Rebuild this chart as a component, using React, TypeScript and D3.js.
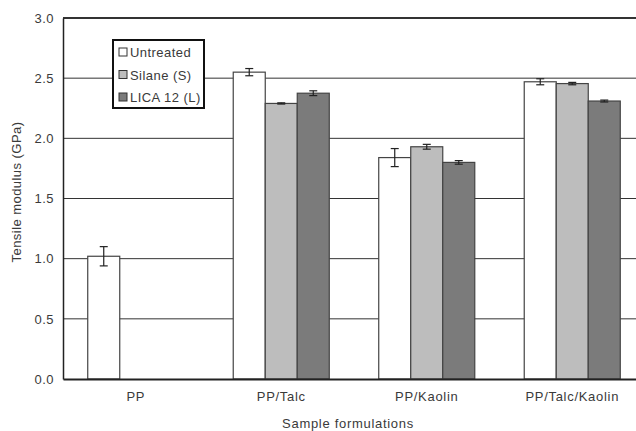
import { useEffect, useRef } from 'react'
import * as d3 from 'd3'

const formulations = ['PP', 'PP/Talc', 'PP/Kaolin', 'PP/Talc/Kaolin']
const treatments = ['Untreated', 'Silane (S)', 'LICA 12 (L)']
const treatmentColors = ['#ffffff', '#bdbdbd', '#7b7b7b']
// null = no bar for that treatment
const untreated = [1.02, 2.55, 1.84, 2.47]
const silane = [null, 2.29, 1.93, 2.455]
const lica = [null, 2.375, 1.8, 2.31]
const untreatedErr = [0.08, 0.03, 0.075, 0.025]
const silaneErr = [0, 0.005, 0.02, 0.01]
const licaErr = [0, 0.02, 0.015, 0.008]
const yTicks = [0, 0.5, 1, 1.5, 2, 2.5, 3]

const width = 636
const height = 431

const App = () => {
  const svgRef = useRef<SVGSVGElement | null>(null)

  useEffect(() => {
    const margin = { left: 63, right: -9, top: 18, bottom: 52 }
    const font = 'Liberation Sans, Arial, sans-serif'
    const textColor = '#3a3a3a'
    const fontSize = '13px'
    const spacing = '0.45px'

    const series = [untreated, silane, lica]
    const errs = [untreatedErr, silaneErr, licaErr]

    const x0 = d3
      .scaleBand()
      .domain(formulations)
      .range([margin.left, width - margin.right])
      .paddingInner(0.34)
      .paddingOuter(0.17)
    const x1 = d3
      .scaleBand()
      .domain(treatments)
      .range([0, x0.bandwidth()])
    const y = d3
      .scaleLinear()
      .domain([0, 3])
      .range([height - margin.bottom, margin.top])

    const svg = d3.select(svgRef.current)
    svg.selectAll('*').remove()

    // grid lines
    svg
      .append('g')
      .selectAll('line')
      .data(yTicks.slice(1))
      .join('line')
      .attr('x1', margin.left)
      .attr('x2', width)
      .attr('y1', (d) => y(d))
      .attr('y2', (d) => y(d))
      .attr('stroke', '#333')
      .attr('stroke-width', (d) => (d === 3 ? 2 : 1))

    // bars
    const rows = formulations.flatMap((f, i) =>
      treatments.map((t, j) => ({
        f,
        t,
        j,
        v: series[j][i],
        e: errs[j][i],
      }))
    ).filter((d) => d.v !== null) as { f: string; t: string; j: number; v: number; e: number }[]

    svg
      .append('g')
      .selectAll('rect')
      .data(rows)
      .join('rect')
      .attr('x', (d) => (x0(d.f) as number) + (x1(d.t) as number))
      .attr('width', x1.bandwidth())
      .attr('y', (d) => y(d.v))
      .attr('height', (d) => y(0) - y(d.v))
      .attr('fill', (d) => treatmentColors[d.j])
      .attr('stroke', '#444')
      .attr('stroke-width', 1.2)

    // error bars
    const eb = svg.append('g').attr('stroke', '#222').attr('stroke-width', 1.2)
    rows.forEach((d) => {
      const cx = (x0(d.f) as number) + (x1(d.t) as number) + x1.bandwidth() / 2
      const lo = y(d.v - d.e)
      const hi = y(d.v + d.e)
      eb.append('line').attr('x1', cx).attr('x2', cx).attr('y1', lo).attr('y2', hi)
      eb.append('line').attr('x1', cx - 4).attr('x2', cx + 4).attr('y1', lo).attr('y2', lo)
      eb.append('line').attr('x1', cx - 4).attr('x2', cx + 4).attr('y1', hi).attr('y2', hi)
    })

    // y axis
    svg
      .append('g')
      .attr('transform', `translate(${margin.left},0)`)
      .call(d3.axisLeft(y).tickValues(yTicks).tickFormat(d3.format('.1f')).tickSize(0).tickPadding(9))
      .call((g) => g.select('.domain').attr('stroke', '#222').attr('stroke-width', 1.5))
      .call((g) =>
        g
          .selectAll('.tick text')
          .attr('fill', textColor)
          .style('font-family', font)
          .style('font-size', fontSize)
          .style('letter-spacing', spacing)
      )

    // x axis
    svg
      .append('g')
      .attr('transform', `translate(0,${y(0)})`)
      .call(d3.axisBottom(x0).tickSize(0).tickPadding(13))
      .call((g) =>
        g.select('.domain').attr('stroke', '#222').attr('stroke-width', 2)
      )
      .call((g) =>
        g
          .selectAll('.tick text')
          .attr('fill', textColor)
          .style('font-family', font)
          .style('font-size', fontSize)
          .style('letter-spacing', '0.7px')
      )

    // axis titles
    svg
      .append('text')
      .attr('transform', `translate(21,192) rotate(-90)`)
      .attr('text-anchor', 'middle')
      .attr('fill', textColor)
      .style('font-family', font)
      .style('font-size', fontSize)
      .style('letter-spacing', spacing)
      .text('Tensile modulus (GPa)')
    svg
      .append('text')
      .attr('x', 348)
      .attr('y', 428)
      .attr('text-anchor', 'middle')
      .attr('fill', textColor)
      .style('font-family', font)
      .style('font-size', fontSize)
      .style('letter-spacing', '0.7px')
      .text('Sample formulations')

    // legend
    const legend = svg.append('g').attr('transform', 'translate(113,40)')
    legend
      .append('rect')
      .attr('width', 91)
      .attr('height', 68)
      .attr('fill', '#fff')
      .attr('stroke', '#111')
      .attr('stroke-width', 2)
    treatments.forEach((t, j) => {
      const row = legend.append('g').attr('transform', `translate(6,${12 + j * 22.5})`)
      row
        .append('rect')
        .attr('x', 0)
        .attr('y', -4)
        .attr('width', 8)
        .attr('height', 8)
        .attr('fill', treatmentColors[j])
        .attr('stroke', '#333')
      row
        .append('text')
        .attr('x', 11)
        .attr('y', 5)
        .attr('fill', textColor)
        .style('font-family', font)
        .style('font-size', fontSize)
        .style('letter-spacing', spacing)
        .text(t)
    })
  }, [])

  return (
    <svg
      ref={svgRef}
      width={width}
      height={height}
      style={{ position: 'absolute', left: 0, top: 0, background: '#fff' }}
    />
  )
}

export default App
